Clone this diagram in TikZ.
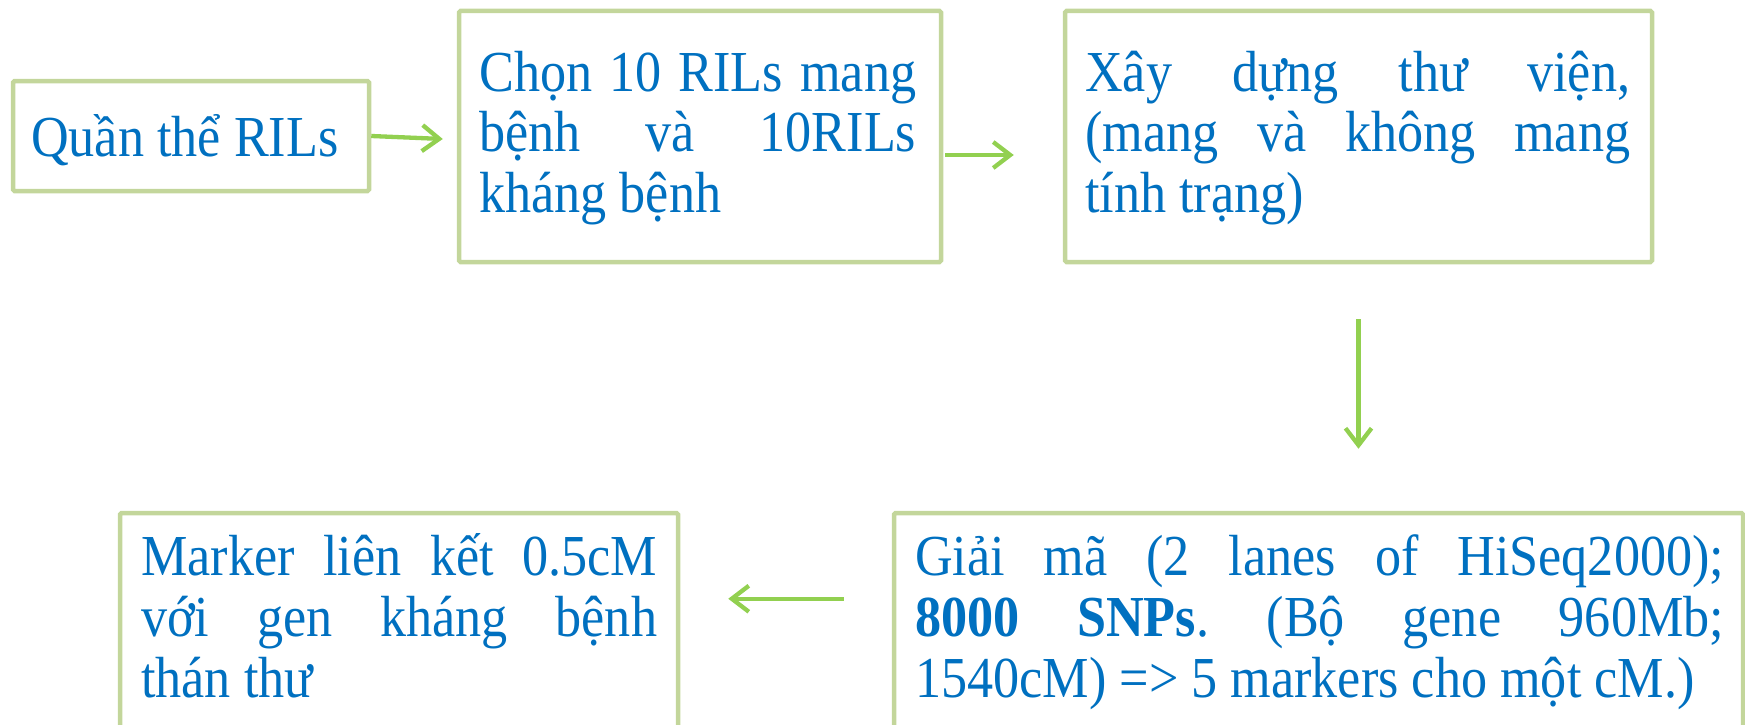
\documentclass[tikz,border=0pt]{standalone}
\usepackage{fontspec}
\setmainfont{Liberation Serif}[FakeStretch=0.9]
\usetikzlibrary{arrows.meta,calc}
\definecolor{boxline}{HTML}{C3D69B}
\definecolor{flow}{HTML}{92D050}
\definecolor{ink}{HTML}{0070C0}
\frenchspacing
\begin{document}
\begin{tikzpicture}[x=1pt,y=-1pt,
  stagebox/.style={draw=boxline, line width=4.5pt, rounded corners=1.5pt, inner sep=0pt},
  stagetext/.style={inner sep=0pt, anchor=base west, text=ink,
    font=\fontsize{58}{61}\selectfont, align=justify,
    execute at begin node={\tolerance=10000\hyphenpenalty=10000}},
  flowarrow/.style={draw=flow, line width=4.3pt, -{Straight Barb[length=17pt,width=26pt]}}]
\clip (0,0) rectangle (1745,725);

% stage boxes
\node[stagebox, minimum width=356pt, minimum height=110pt] (b1) at (191,136) {};
\node[stagebox, minimum width=482pt, minimum height=251pt] (b2) at (700,136.5) {};
\node[stagebox, minimum width=587pt, minimum height=251pt] (b3) at (1358.5,136.5) {};
\node[stagebox, minimum width=558pt, minimum height=277pt] (b4) at (399,651.5) {};
\node[stagebox, minimum width=849pt, minimum height=277pt] (b5) at (1318.5,651.5) {};

% stage texts
\node[stagetext] (t1) at (31,156) {Quần thể RILs};
\node[stagetext, text width=437pt] (t2) at (479,91)
  {Chọn 10 RILs mang\linebreak bệnh và 10RILs\linebreak kháng bệnh};
\node[stagetext, text width=545pt] (t3) at (1085,91)
  {Xây dựng thư viện,\linebreak (mang và không mang\linebreak tính trạng)};
\node[stagetext, text width=516pt] (t4) at (141,575)
  {Marker liên kết 0.5cM\linebreak với gen kháng bệnh\linebreak thán thư};
\node[stagetext, text width=809pt] (t5) at (915,575)
  {Giải mã (2 lanes of HiSeq2000);\linebreak \textbf{8000 SNPs}. (Bộ gene 960Mb;\linebreak 1540cM) => 5 markers cho một cM.)};

% flow between stages
\draw[flowarrow] (b1.east) -- ($(b2.west)+(-14,2.5)$);
\draw[flowarrow] ($(b2.east)+(2,18.5)$) -- ($(b3.west)+(-49,18.5)$);
\draw[flowarrow] ($(b3.south)+(0,55)$) -- ($(b3.south |- b5.north)+(0,-62)$);
\draw[flowarrow] ($(b5.north west)+(-48,88)$) -- ($(b4.north east)+(48,88)$);
\end{tikzpicture}
\end{document}
